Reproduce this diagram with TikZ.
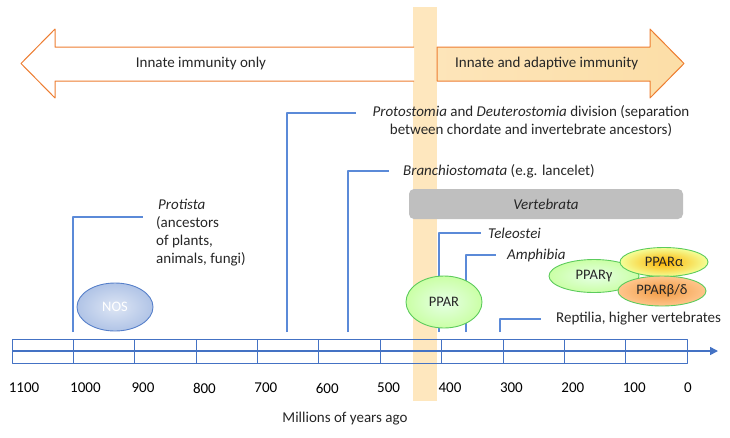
\documentclass[tikz,border=0pt]{standalone}
\usepackage{fontspec}
\setmainfont{Carlito}
\usetikzlibrary{arrows.meta,shapes.geometric}

\definecolor{axisblue}{HTML}{4472C4}
\definecolor{lineblue}{HTML}{5B8AD8}
\definecolor{arroworange}{HTML}{ED7D31}
\definecolor{bandorange}{HTML}{FEE7BE}
\definecolor{arrowfill}{HTML}{FCDCA2}
\definecolor{boxgray}{HTML}{BFBFBF}
\definecolor{leafgreen}{HTML}{5CCB5C}
\definecolor{textgray}{HTML}{262626}

\tikzset{
  evline/.style={lineblue,line width=1.3pt},
  evtext/.style={inner sep=0pt,text=textgray,font=\fontsize{15}{18}\selectfont},
  blob/.style={ellipse,draw=leafgreen,line width=0.9pt,inner sep=0pt,text=textgray,font=\fontsize{14.5}{16}\selectfont},
}

\begin{document}
\begin{tikzpicture}[x=1pt,y=-1pt,line join=round]
\useasboundingbox (0,0) rectangle (730,437);

\fill[bandorange] (413,7) rectangle (437,401);

% immunity arrows
\draw[arroworange,fill=white,line width=1pt]
  (414,47) -- (55,47) -- (55,29) -- (21,63.5) -- (55,98) -- (55,81) -- (414,81);
\draw[arroworange,left color=arrowfill!75!white,right color=arrowfill!95!white,line width=1pt]
  (437,47) -- (650,47) -- (650,29) -- (684,63.5) -- (650,98) -- (650,81) -- (437,81) -- cycle;
\node[evtext] (innate) at (201,63.5) {Innate immunity only};
\node[evtext,anchor=west] (adaptive) at (455,63.5) {Innate and adaptive immunity};

% time axis
\coordinate (axisstart) at (12,351);
\coordinate (axisend) at (718,351);
\draw[axisblue,line width=0.6pt] (12,339) rectangle (687,363);
\foreach \t in {100,200,...,1000}
  \draw[axisblue,line width=0.6pt] ({687-0.614*\t},339) -- ({687-0.614*\t},363);
\draw[axisblue,line width=1.6pt,-{Triangle[length=8pt,width=8pt]}] (axisstart) -- (axisend);
\foreach \t in {0,100,...,1100}
  \node[evtext,anchor=west,text=black] (tick\t) at ({684-0.614*\t},388) {\t};
\node[evtext] (myago) at (345,419) {Millions of years ago};

% events
\coordinate (protistafoot) at (73,332);
\coordinate (protistaend) at (143,217);
\coordinate (protofoot) at (287,332);
\coordinate (protoend) at (356,113);
\coordinate (branchfoot) at (348,332);
\coordinate (branchend) at (389,171);
\coordinate (teleofoot) at (439,332);
\coordinate (teleoend) at (481,233);
\coordinate (amphifoot) at (466,332);
\coordinate (amphiend) at (496,255);
\coordinate (reptifoot) at (500,332);
\coordinate (reptiend) at (541,319);

\draw[evline] (protistafoot) |- (protistaend);
\draw[evline] (protofoot) |- (protoend);
\draw[evline] (branchfoot) |- (branchend);
\draw[evline] (teleofoot) |- (teleoend);
\draw[evline] (amphifoot) |- (amphiend);
\draw[evline] (reptifoot) |- (reptiend);

\node[evtext,anchor=north west,align=left] (protista) at (156,199)
  {\hspace{2pt}\textit{Protista}\\(ancestors\\of plants,\\animals, fungi)};
\node[evtext,align=center] (proto) at (531,121)
  {\textit{Protostomia} and \textit{Deuterostomia} division (separation\\between chordate and invertebrate ancestors)};
\node[evtext,anchor=west] (branch) at (403,171) {\textit{Branchiostomata} (e.g. lancelet)};
\node[evtext,fill=boxgray,rounded corners=5pt,minimum width=274pt,minimum height=30pt] (vertebrata)
  at (546,204) {\textit{Vertebrata}};
\node[evtext,anchor=west] (teleo) at (488,233) {\textit{Teleostei}};
\node[evtext,anchor=west] (amphi) at (507,255) {\textit{Amphibia}};
\node[evtext,anchor=west] (repti) at (556,319) {Reptilia, higher vertebrates};

% enzymes
\node[blob,draw=axisblue!90!white,inner color=axisblue!18!white,outer color=axisblue!42!white,text=white,
  minimum width=76pt,minimum height=48pt] (nos) at (115,307) {NOS};
\node[blob,inner color=green!10!white,outer color=green!45!lime!35!white,
  minimum width=76pt,minimum height=52pt] (ppar) at (444,302) {PPAR};
\node[blob,inner color=green!10!white,outer color=green!45!lime!35!white,
  minimum width=90pt,minimum height=33pt] (pparg) at (594,276) {PPARγ};
\node[blob,inner color=orange!60!yellow,outer color=yellow!55!lime!40!white,
  minimum width=88pt,minimum height=29pt] (ppara) at (664,262) {PPARα};
\node[blob,inner color=orange!70!brown!80!white,outer color=orange!45!white,
  minimum width=88pt,minimum height=30pt] (pparb) at (662,291) {PPARβ/δ};
\end{tikzpicture}
\end{document}
